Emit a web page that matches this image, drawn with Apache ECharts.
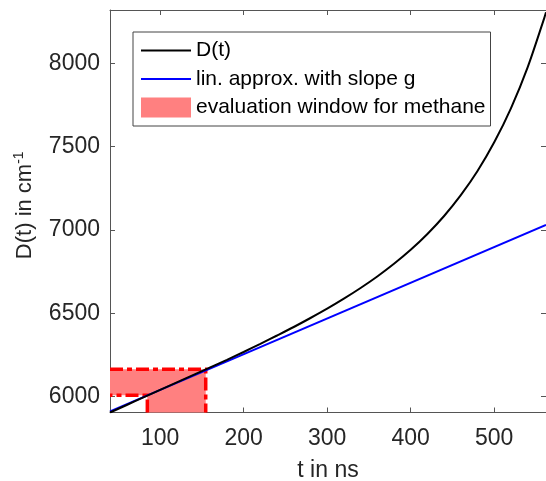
<!DOCTYPE html>
<html>
<head>
<meta charset="utf-8">
<script src="https://cdn.jsdelivr.net/npm/echarts@6/dist/echarts.min.js"></script>
<style>
html,body{margin:0;padding:0;background:#fff;}
#chart{width:546px;height:481px;}
</style>
</head>
<body>
<div id="chart"></div>
<script>
// ---- data ----
var tValues = [40, 60, 80, 100, 120, 140, 160, 180, 200, 220, 240, 260, 280, 300, 320, 340, 360, 380, 400, 420, 440, 460, 480, 500, 520, 540, 560, 562];
var dValues = [5905, 5950, 5996, 6041, 6086, 6131, 6176, 6221, 6268, 6317, 6367, 6418, 6472, 6528, 6588, 6652, 6721, 6797, 6881, 6976, 7084, 7209, 7354, 7526, 7730, 7976, 8273, 8306];
var linT = [40, 562];
var linD = [5912, 7030];
// evaluation window outline (L-shaped polygon)
var windowT = [40, 154.6, 154.6, 84.7, 84.7, 40];
var windowD = [6164, 6164, 5905, 5905, 6008, 6008];
var xTicks = [100, 200, 300, 400, 500];
var yTicks = [6000, 6500, 7000, 7500, 8000];
var seriesNames = ['D(t)', 'lin. approx. with slope g', 'evaluation window for methane'];

var xMin = 40, xMax = 562, yMin = 5905, yMax = 8320;

function pairs(a, b) { return a.map(function (v, i) { return [v, b[i]]; }); }
function plain(v) { return String(v); }

var FONT = 'Liberation Sans, Arial, Helvetica, sans-serif';
var TXT = '#262626';
var AX = '#555';

function xAxisCfg(pos, show) {
  return {
    type: 'value', position: pos, min: xMin, max: xMax,
    axisLine: { show: true, onZero: false, lineStyle: { color: AX, width: 1 } },
    axisTick: { show: true, inside: true, length: 5, customValues: xTicks, lineStyle: { color: AX } },
    axisLabel: { show: show, customValues: xTicks, formatter: plain, margin: 15, color: TXT, fontSize: 23, fontFamily: FONT },
    splitLine: { show: false }
  };
}
function yAxisCfg(pos, show) {
  return {
    type: 'value', position: pos, min: yMin, max: yMax,
    axisLine: { show: true, onZero: false, lineStyle: { color: AX, width: 1 } },
    axisTick: { show: true, inside: true, length: 5, customValues: yTicks, lineStyle: { color: AX } },
    axisLabel: { show: show, customValues: yTicks, formatter: plain, margin: 10, color: TXT, fontSize: 23, fontFamily: FONT },
    splitLine: { show: false }
  };
}

var xBottom = xAxisCfg('bottom', true);
xBottom.name = 't in ns';
xBottom.nameLocation = 'middle';
xBottom.nameGap = 47;
xBottom.nameTextStyle = { color: TXT, fontSize: 23, fontFamily: FONT };
var xTop = xAxisCfg('top', false);

var yLeft = yAxisCfg('left', true);
yLeft.name = '{a|D(t) in cm}{b|-1}';
yLeft.nameLocation = 'middle';
yLeft.nameGap = 68;
yLeft.nameRotate = 90;
yLeft.nameTextStyle = {
  color: TXT, fontSize: 22, fontFamily: FONT, padding: [0, 0, 0, 12],
  rich: {
    a: { color: TXT, fontSize: 22, fontFamily: FONT, lineHeight: 26 },
    b: { color: TXT, fontSize: 14, fontFamily: FONT, verticalAlign: 'top', lineHeight: 26, padding: [0, 0, 12, 0] }
  }
};
var yRight = yAxisCfg('right', false);

var option = {
  animation: false,
  backgroundColor: '#ffffff',
  grid: { left: 110, right: 0, top: 10, bottom: 68.5, containLabel: false, outerBoundsMode: 'none' },
  xAxis: [xBottom, xTop],
  yAxis: [yLeft, yRight],
  legend: {
    orient: 'vertical', left: 133, top: 32,
    backgroundColor: '#ffffff', borderColor: '#444', borderWidth: 1,
    padding: [8, 5, 8, 7],
    itemWidth: 50, itemHeight: 20, itemGap: 7.5,
    textStyle: { color: '#000', fontSize: 21, fontFamily: FONT },
    data: [
      { name: seriesNames[0], itemStyle: { opacity: 0 } },
      { name: seriesNames[1], itemStyle: { opacity: 0 } },
      { name: seriesNames[2], icon: 'rect' }
    ]
  },
  series: [
    {
      name: seriesNames[2], type: 'custom', xAxisIndex: 0, yAxisIndex: 0, z: 1,
      itemStyle: { color: '#ff8080' },
      data: [[windowT[0], windowD[0]]],
      renderItem: function (params, api) {
        var pts = windowT.map(function (t, i) { return api.coord([t, windowD[i]]); });
        var dash = [13, 4, 5, 4];
        var st = { fill: 'none', stroke: '#ff0000', lineWidth: 3.5, lineDash: dash, lineCap: 'butt' };
        return {
          type: 'group',
          children: [
            { type: 'polygon', shape: { points: pts }, style: { fill: '#ff8080' } },
            { type: 'polyline', shape: { points: [pts[0], pts[1], pts[2]] }, style: st },
            { type: 'polyline', shape: { points: [pts[3], pts[4], pts[5]] }, style: st }
          ]
        };
      }
    },
    {
      name: seriesNames[1], type: 'line', xAxisIndex: 0, yAxisIndex: 0, z: 2,
      data: pairs(linT, linD), symbol: 'none', color: '#0000ff',
      lineStyle: { color: '#0000ff', width: 2 }
    },
    {
      name: seriesNames[0], type: 'line', xAxisIndex: 0, yAxisIndex: 0, z: 3,
      data: pairs(tValues, dValues), symbol: 'none', smooth: 0.3, color: '#000000',
      lineStyle: { color: '#000000', width: 2 }
    }
  ]
};

var chart = echarts.init(document.getElementById('chart'), null, { renderer: 'canvas' });
chart.setOption(option);
</script>
</body>
</html>
